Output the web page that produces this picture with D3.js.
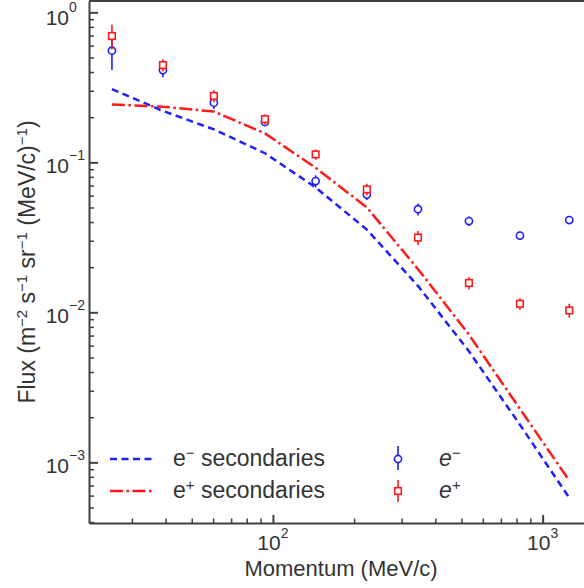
<!DOCTYPE html>
<html lang="en">
  <head>
    <meta charset="utf-8">
    <title>Flux vs momentum</title>
    <style type="text/css">
body {
  margin: 0;
  background: #fff;
}

svg {
  font-family: "Liberation Sans", Arial, sans-serif;
  fill: #333;
}

.axis path, .axis line {
  fill: none;
  stroke: #404040;
  stroke-width: 2px;
}

.minor line {
  stroke-width: 1.5px;
}

.curve {
  fill: none;
  stroke-width: 2.5px;
}
    </style>
  </head>
  <body>
    <div id="mainCanvas"></div>

    <script src="https://cdn.jsdelivr.net/npm/d3@7"></script>
    <script>
      // momentum bins (MeV/c)
      var momentum = [25.3, 39.1, 60.4, 93.4, 144, 223, 345, 533, 824, 1255];

      // measured flux
      var eMinus    = [0.555, 0.412, 0.250, 0.186, 0.075, 0.061, 0.0487, 0.0406, 0.0325, 0.0412];
      var eMinusErr = [0.143, 0.043, 0.023, 0.012, 0.007, 0.005, 0.0045, 0.003, 0.002, 0.002];
      var ePlus     = [0.695, 0.445, 0.277, 0.194, 0.113, 0.066, 0.0315, 0.0157, 0.0114, 0.0103];
      var ePlusErr  = [0.13, 0.042, 0.025, 0.015, 0.009, 0.006, 0.0034, 0.0015, 0.001, 0.0011];

      // calculated secondaries
      var secMinus = [0.308, 0.22, 0.166, 0.115, 0.068, 0.0356, 0.0150, 0.0055, 0.00178, 0.00058];
      var secPlus  = [0.243, 0.235, 0.218, 0.156, 0.092, 0.050, 0.0194, 0.0071, 0.00227, 0.000756];

      var xTicks = [100, 1000];
      var xTickExp = ["2", "3"];
      var yTicks = [1, 0.1, 0.01, 0.001];
      var yTickExp = ["0", "\u22121", "\u22122", "\u22123"];

      var width = 584, height = 588;
      var margin = {top: 1, right: -9, bottom: 65, left: 89};
      var w = width - margin.left - margin.right;
      var h = height - margin.top - margin.bottom;

      var blue = "#1f1fff", red = "#ff1a1a";

      var x = d3.scaleLog()
        .domain([20.8, 1537])
        .range([0, w]);

      var y = d3.scaleLog()
        .domain([3.94e-4, 1.19])
        .range([h, 0]);

      var svg = d3.select("#mainCanvas").append("svg")
          .attr("width", width)
          .attr("height", height)
        .append("g")
          .attr("transform", "translate(" + margin.left + "," + margin.top + ")");

      // minor tick values, 2..9 in each decade
      function minors(lo, hi) {
        var out = [];
        for (var d = lo; d <= hi; d *= 10) {
          for (var k = 2; k <= 9; k++) out.push(k * d);
        }
        return out;
      }
      var xMinor = minors(10, 1000).filter(function(v) { return v > 20.8 && v < 1537; });
      var yMinor = minors(1e-4, 1).filter(function(v) { return v > 3.94e-4 && v < 1.19; });

      // frame: top border
      svg.append("line")
          .attr("x1", 0).attr("x2", w)
          .attr("y1", 0).attr("y2", 0)
          .attr("stroke", "#404040")
          .attr("stroke-width", 2);

      svg.append("g")
          .attr("class", "x axis")
          .attr("transform", "translate(0," + h + ")")
        .call(d3.axisBottom(x).tickValues(xTicks).tickSize(-8).tickSizeOuter(0).tickFormat(""));

      svg.append("g")
          .attr("class", "x axis minor")
          .attr("transform", "translate(0," + h + ")")
        .call(d3.axisBottom(x).tickValues(xMinor).tickSize(-4.5).tickFormat(""))
        .select(".domain").remove();

      svg.append("g")
          .attr("class", "y axis")
        .call(d3.axisLeft(y).tickValues(yTicks).tickSize(-9).tickSizeOuter(0).tickFormat(""));

      svg.append("g")
          .attr("class", "y axis minor")
        .call(d3.axisLeft(y).tickValues(yMinor).tickSize(-5).tickFormat(""))
        .select(".domain").remove();

      // tick labels as 10 with superscript
      xTicks.forEach(function(v, i) {
        var t = svg.append("text")
            .attr("x", x(v))
            .attr("y", h + 27)
            .attr("text-anchor", "middle")
            .style("font-size", "21px");
        t.append("tspan").text("10");
        t.append("tspan").attr("dy", -12).style("font-size", "14px").text(xTickExp[i]);
      });

      yTicks.forEach(function(v, i) {
        // top label sits a little lower so it stays inside the page
        var shift = i === 0 ? 2 : 0;
        svg.append("text")
            .attr("x", -20)
            .attr("y", y(v) + 10.5 + shift)
            .attr("text-anchor", "end")
            .style("font-size", "21px")
            .text("10");
        svg.append("text")
            .attr("x", -20)
            .attr("y", y(v) - 2 + shift)
            .style("font-size", "14px")
            .text(yTickExp[i]);
      });

      // axis titles
      svg.append("text")
          .attr("text-anchor", "middle")
          .attr("transform", "translate(" + (w / 2) + "," + (h + 53) + ")")
          .style("font-size", "22px")
          .text("Momentum (MeV/c)");

      function supText(sel, parts) {
        // parts: [text, isSup]
        parts.forEach(function(p, i) {
          var prevSup = i > 0 && parts[i - 1][1];
          var dy = p[1] ? -8 : (prevSup ? 8 : 0);
          sel.append("tspan")
              .attr("dy", dy)
              .style("font-size", p[1] ? "15px" : null)
              .text(p[0]);
        });
      }

      var yl = svg.append("text")
          .attr("text-anchor", "middle")
          .attr("transform", "translate(" + (-54) + "," + (h / 2) + ")rotate(-90)")
          .style("font-size", "23px");
      supText(yl, [["Flux (m", 0], ["\u22122", 1], [" s", 0], ["\u22121", 1], [" sr", 0], ["\u22121", 1],
                   [" (MeV/c)", 0], ["\u22121", 1], [")", 0]]);

      // secondaries curves
      var line = d3.line()
        .x(function(d) { return x(d[0]); })
        .y(function(d) { return y(d[1]); });

      svg.append("path")
          .datum(d3.zip(momentum, secMinus))
          .attr("class", "curve")
          .attr("stroke", blue)
          .attr("stroke-dasharray", "7,4.5")
          .attr("d", line);

      svg.append("path")
          .datum(d3.zip(momentum, secPlus))
          .attr("class", "curve")
          .attr("stroke", red)
          .attr("stroke-dasharray", "13,3.5,2.5,3.5")
          .attr("d", line);

      // measured points with error bars
      function errBars(vals, errs, color) {
        svg.append("g").selectAll("line")
          .data(vals)
          .enter()
          .append("line")
            .attr("x1", function(d, i) { return x(momentum[i]); })
            .attr("x2", function(d, i) { return x(momentum[i]); })
            .attr("y1", function(d, i) { return y(d - errs[i]); })
            .attr("y2", function(d, i) { return y(d + errs[i]); })
            .attr("stroke", color)
            .attr("stroke-width", 1.6);
      }

      errBars(eMinus, eMinusErr, blue);
      svg.append("g").selectAll("circle")
        .data(eMinus)
        .enter()
        .append("circle")
          .attr("cx", function(d, i) { return x(momentum[i]); })
          .attr("cy", function(d) { return y(d); })
          .attr("r", 3.6)
          .attr("fill", "#fff")
          .attr("stroke", blue)
          .attr("stroke-width", 1.6);

      errBars(ePlus, ePlusErr, red);
      svg.append("g").selectAll("rect")
        .data(ePlus)
        .enter()
        .append("rect")
          .attr("x", function(d, i) { return x(momentum[i]) - 3.3; })
          .attr("y", function(d) { return y(d) - 3.3; })
          .attr("width", 6.6)
          .attr("height", 6.6)
          .attr("fill", "#fff")
          .attr("stroke", red)
          .attr("stroke-width", 1.6);

      // legend
      var lg = svg.append("g");
      var ly = [458, 490];

      lg.append("line").attr("x1", 21).attr("x2", 66).attr("y1", ly[0]).attr("y2", ly[0])
          .attr("stroke", blue).attr("stroke-width", 2.5).attr("stroke-dasharray", "7,4.5");
      lg.append("line").attr("x1", 21).attr("x2", 66).attr("y1", ly[1]).attr("y2", ly[1])
          .attr("stroke", red).attr("stroke-width", 2.5).attr("stroke-dasharray", "13,3.5,2.5,3.5");

      var t1 = lg.append("text").attr("x", 84).attr("y", ly[0] + 7).style("font-size", "23px");
      supText(t1, [["e", 0], ["\u2212", 1], [" secondaries", 0]]);
      var t2 = lg.append("text").attr("x", 84).attr("y", ly[1] + 7).style("font-size", "23px");
      supText(t2, [["e", 0], ["+", 1], [" secondaries", 0]]);

      var mx = 309;
      lg.append("line").attr("x1", mx).attr("x2", mx).attr("y1", ly[0] - 13).attr("y2", ly[0] + 11)
          .attr("stroke", blue).attr("stroke-width", 1.6);
      lg.append("circle").attr("cx", mx).attr("cy", ly[0]).attr("r", 3.6)
          .attr("fill", "#fff").attr("stroke", blue).attr("stroke-width", 1.6);
      lg.append("line").attr("x1", mx).attr("x2", mx).attr("y1", ly[1] - 11).attr("y2", ly[1] + 11)
          .attr("stroke", red).attr("stroke-width", 1.6);
      lg.append("rect").attr("x", mx - 3.3).attr("y", ly[1] - 3.3).attr("width", 6.6).attr("height", 6.6)
          .attr("fill", "#fff").attr("stroke", red).attr("stroke-width", 1.6);

      var t3 = lg.append("text").attr("x", 350).attr("y", ly[0] + 7).style("font-size", "23px").style("font-style", "italic");
      supText(t3, [["e", 0], ["\u2212", 1]]);
      var t4 = lg.append("text").attr("x", 350).attr("y", ly[1] + 7).style("font-size", "23px").style("font-style", "italic");
      supText(t4, [["e", 0], ["+", 1]]);
    </script>
  </body>
</html>
